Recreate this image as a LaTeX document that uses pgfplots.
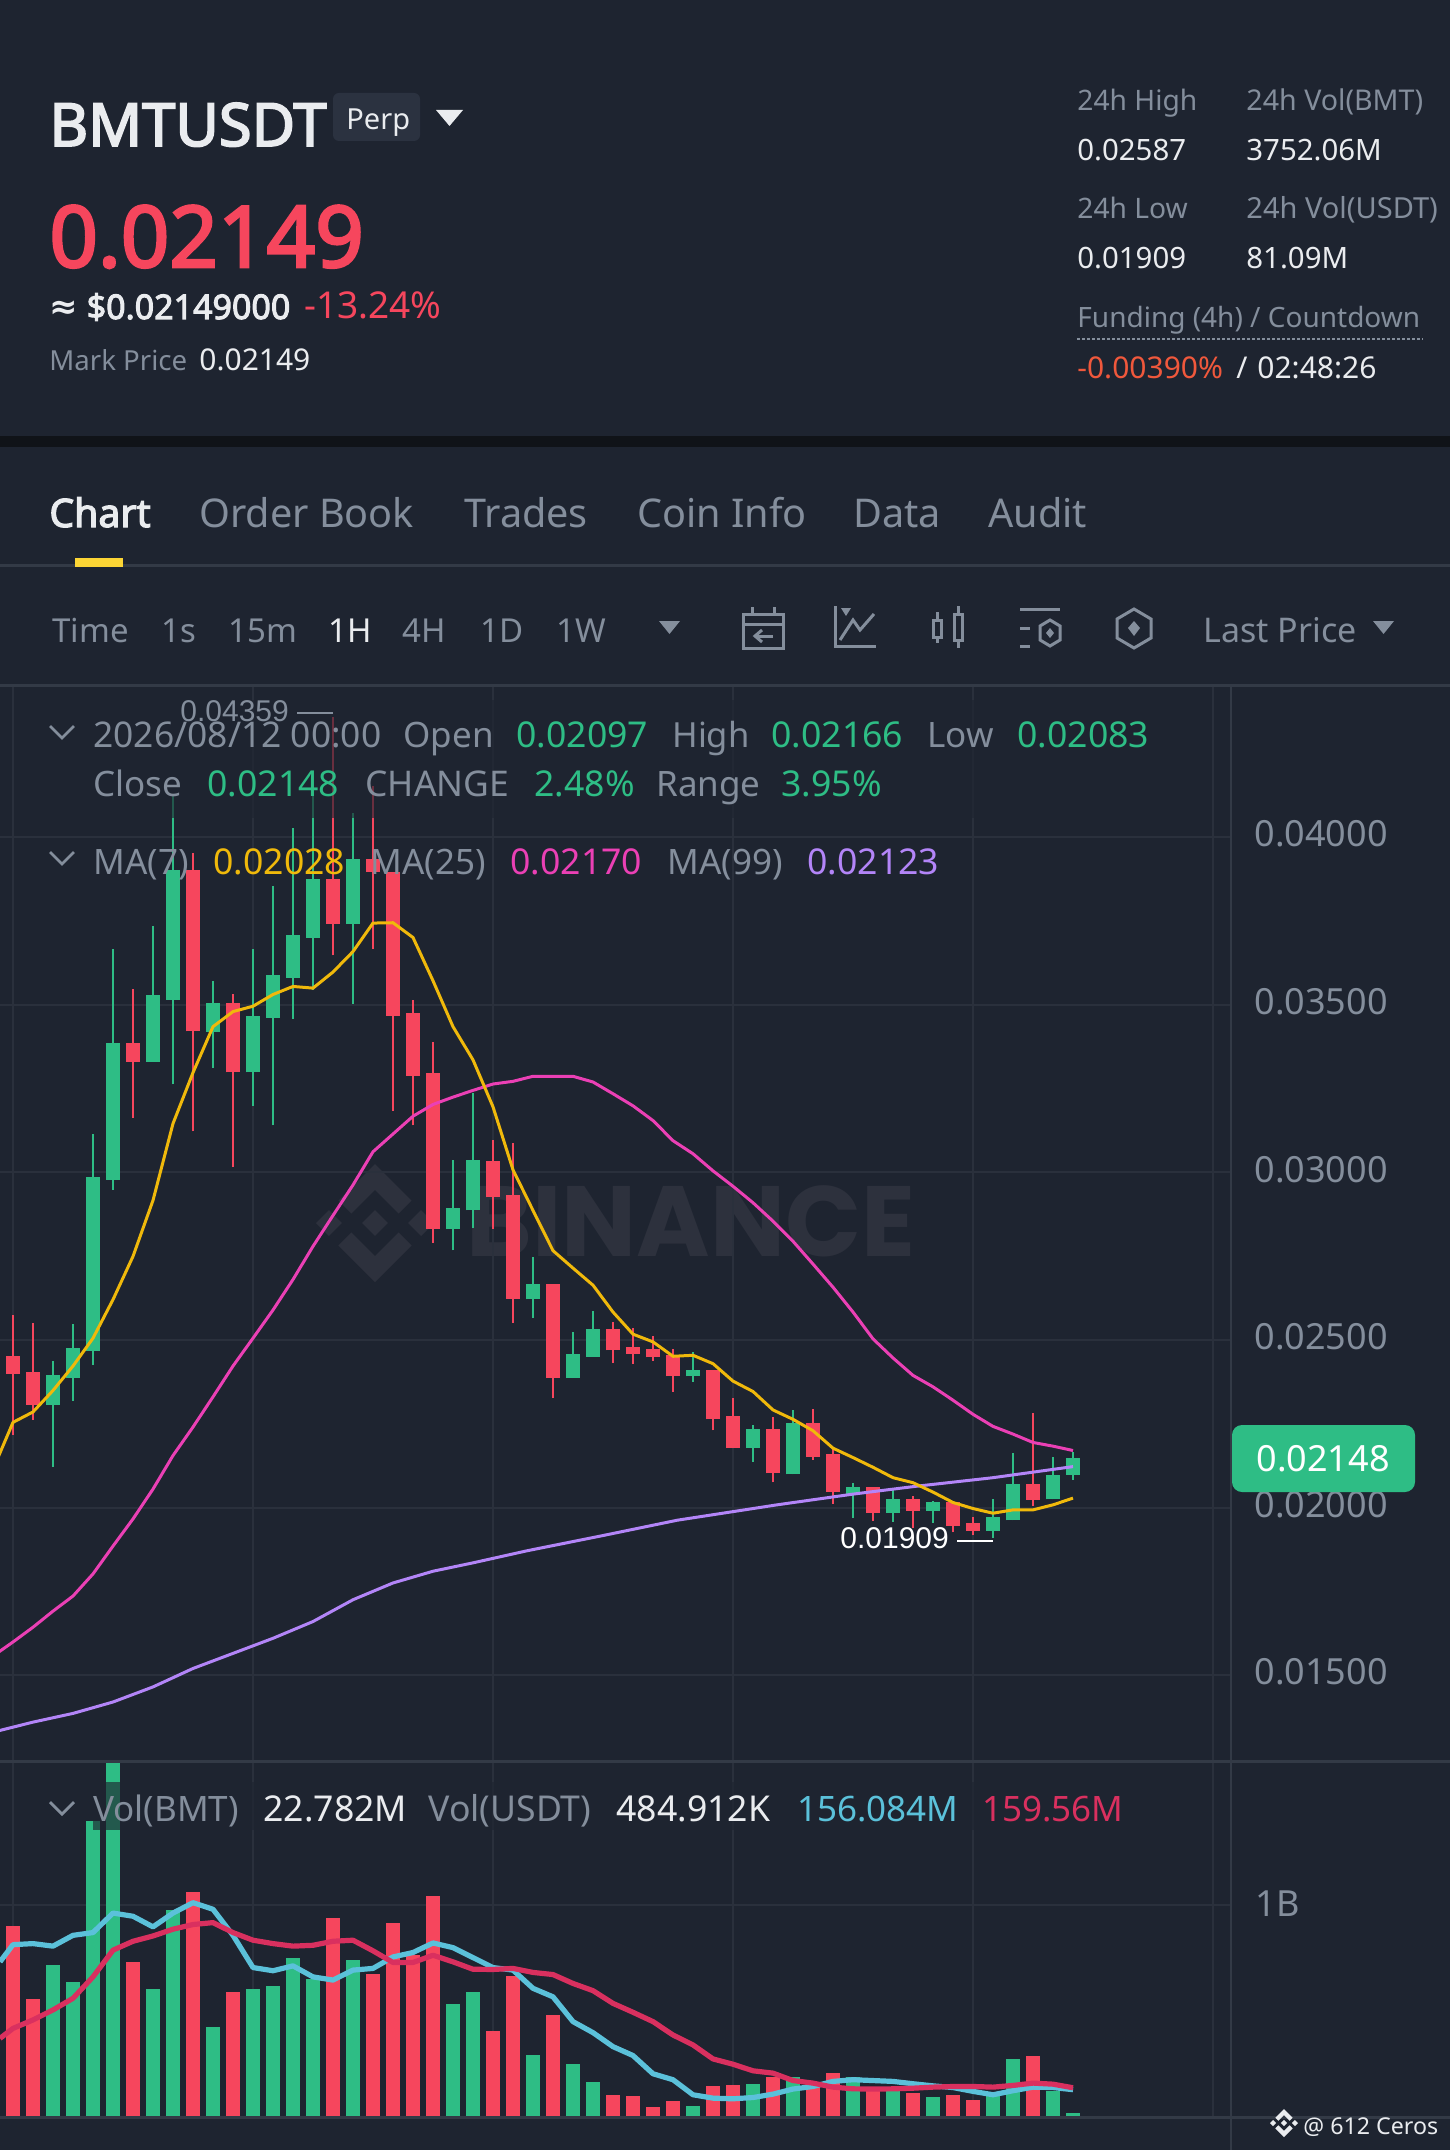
\documentclass[border=0pt]{standalone}
\usepackage{fontspec}
\usepackage{graphicx}
\usepackage{pgfplots}
\usepackage{pgfplotstable}
\pgfplotsset{compat=1.18}
\setmainfont{Noto Sans}[BoldFont={Noto Sans},BoldFeatures={FakeBold=3}]
\newfontfamily\poppins{Poppins}
\newfontfamily\arial{Liberation Sans}
\newfontfamily\djv{DejaVu Sans}
\definecolor{bg}{HTML}{1E2430}
\definecolor{band}{HTML}{101318}
\definecolor{sep}{HTML}{333A46}
\definecolor{gridc}{HTML}{2A303C}
\definecolor{wm}{HTML}{2D313D}
\definecolor{up}{HTML}{2EBD85}
\definecolor{dn}{HTML}{F6465D}
\definecolor{ma7}{HTML}{F0B90B}
\definecolor{ma25}{HTML}{EB40B5}
\definecolor{ma99}{HTML}{B385F8}
\definecolor{volb}{HTML}{5BC1DA}
\definecolor{volr}{HTML}{D9305F}
\definecolor{grey}{HTML}{848E9C}
\definecolor{wht}{HTML}{EAECEF}
\definecolor{tab}{HTML}{FCD535}
\definecolor{badge}{HTML}{2B3240}
\definecolor{fund}{HTML}{F0583C}
\newcommand{\fs}[1]{\fontsize{#1}{#1}\selectfont}
\newcommand{\T}[5]{\node[anchor=base west,inner sep=0pt,text=#4,font=\fs{#3}] at (#1,#2) {#5};}
\newcommand{\TB}[5]{\node[anchor=base west,inner sep=0pt,text=#4,font=\fs{#3}\bfseries] at (#1,#2) {#5};}
\newcommand{\BinLogo}[4]{\begin{scope}[shift={(#1,#2)},x=#3*0.5pt,y=-#3*0.5pt]
\fill[#4] (0,.22)--(.22,0)--(0,-.22)--(-.22,0)--cycle;
\fill[#4] (-.78,.22)--(-.56,0)--(-.78,-.22)--(-1,0)--cycle;
\fill[#4] (.78,.22)--(1,0)--(.78,-.22)--(.56,0)--cycle;
\fill[#4] (0,-1)--(.62,-.38)--(.40,-.16)--(0,-.56)--(-.40,-.16)--(-.62,-.38)--cycle;
\fill[#4] (0,1)--(.62,.38)--(.40,.16)--(0,.56)--(-.40,.16)--(-.62,.38)--cycle;
\end{scope}}
\pgfplotstableread{
i hi top bot lo
0 0.02574 0.02452 0.02399 0.02216
1 0.02551 0.02405 0.02307 0.02262
6 0.03546 0.03384 0.03330 0.03163
9 0.03951 0.03901 0.03420 0.03122
11 0.03530 0.03505 0.03298 0.03015
16 0.04359 0.03874 0.03741 0.03647
18 0.04152 0.03933 0.03895 0.03665
19 0.03895 0.03895 0.03466 0.03183
20 0.03514 0.03476 0.03288 0.03140
21 0.03388 0.03297 0.02830 0.02790
24 0.03097 0.03033 0.02925 0.02831
25 0.03086 0.02932 0.02622 0.02551
27 0.02667 0.02667 0.02386 0.02326
30 0.02554 0.02531 0.02469 0.02431
31 0.02534 0.02478 0.02459 0.02429
32 0.02511 0.02473 0.02448 0.02438
33 0.02472 0.02454 0.02391 0.02346
35 0.02410 0.02410 0.02263 0.02230
36 0.02328 0.02272 0.02177 0.02177
38 0.02269 0.02234 0.02102 0.02075
40 0.02294 0.02251 0.02150 0.02143
41 0.02177 0.02159 0.02046 0.02011
43 0.02061 0.02061 0.01983 0.01960
45 0.02033 0.02024 0.01991 0.01939
47 0.02017 0.02017 0.01945 0.01926
48 0.01971 0.01954 0.01931 0.01917
51 0.02281 0.02069 0.02023 0.02006
}\reddata
\pgfplotstableread{
i hi top bot lo
2 0.02437 0.02396 0.02307 0.02122
3 0.02546 0.02475 0.02385 0.02318
4 0.03114 0.02986 0.02467 0.02425
5 0.03665 0.03384 0.02977 0.02947
7 0.03735 0.03527 0.03330 0.03330
8 0.04122 0.03901 0.03514 0.03262
10 0.03571 0.03505 0.03419 0.03312
12 0.03667 0.03467 0.03298 0.03198
13 0.03855 0.03589 0.03460 0.03140
14 0.04027 0.03708 0.03580 0.03457
15 0.04142 0.03874 0.03699 0.03543
17 0.04070 0.03933 0.03740 0.03502
22 0.03035 0.02894 0.02830 0.02767
23 0.03236 0.03035 0.02886 0.02833
26 0.02746 0.02667 0.02621 0.02566
28 0.02522 0.02458 0.02386 0.02386
29 0.02585 0.02531 0.02450 0.02450
34 0.02464 0.02410 0.02391 0.02375
37 0.02246 0.02234 0.02177 0.02136
39 0.02291 0.02251 0.02099 0.02099
42 0.02072 0.02061 0.02040 0.01969
44 0.02051 0.02024 0.01983 0.01957
46 0.02019 0.02016 0.01991 0.01954
49 0.02025 0.01973 0.01930 0.01909
50 0.02162 0.02069 0.01962 0.01962
52 0.02151 0.02097 0.02024 0.02024
53 0.02166 0.02148 0.02097 0.02083
}\greendata
\pgfplotstableread{
i v
0 0.900
1 0.556
6 0.729
9 1.061
11 0.591
16 0.940
18 0.674
19 0.917
20 0.763
21 1.042
24 0.404
25 0.665
27 0.483
30 0.103
31 0.100
32 0.047
33 0.077
35 0.144
36 0.152
38 0.191
40 0.152
41 0.207
43 0.129
45 0.113
47 0.102
48 0.082
51 0.290
}\redvol
\pgfplotstableread{
i v
2 0.715
3 0.639
4 1.398
5 1.700
7 0.603
8 0.975
10 0.423
12 0.605
13 0.616
14 0.752
15 0.649
17 0.743
22 0.531
23 0.589
26 0.292
28 0.252
29 0.166
34 0.050
37 0.157
39 0.188
42 0.188
44 0.121
46 0.096
49 0.105
50 0.274
52 0.121
53 0.019
}\greenvol
\begin{document}
\begin{tikzpicture}[x=0.5pt,y=-0.5pt]
\path[use as bounding box,fill=bg] (0,0) rectangle (1450,2150);
% watermark
\BinLogo{375}{1223}{59}{wm}
\node[anchor=base west,inner sep=0pt,text=wm] at (466,1256) {\resizebox{224.5pt}{!}{\poppins\bfseries\fs{47}BINANCE}};
% price panel
\begin{axis}[at={(0pt,-880.5pt)},anchor=south west,scale only axis,width=615.5pt,height=537.5pt,
  xmin=-0.65,xmax=60.9,ymin=0.01244,ymax=0.0445,
  axis line style={draw=none},major tick length=0pt,
  xtick={0,12,24,36,48,60},xticklabels={},
  ytick={0.015,0.02,0.025,0.03,0.035,0.04},
  grid=major,grid style={gridc,line width=1pt},
  yticklabel pos=right,scaled y ticks=false,
  yticklabel style={/pgf/number format/fixed,/pgf/number format/fixed zerofill,/pgf/number format/precision=5,/pgf/number format/assume math mode=true,anchor=west,inner sep=0pt,xshift=11.5pt,yshift=1.5pt,text=grey,font=\fs{18}},
  axis on top=false]
\addplot[draw=none,mark=none,forget plot,error bars/.cd,y dir=plus,y explicit,error mark=none,error bar style={dn,line width=1.4pt,line cap=butt}] table[x=i,y=lo,y error expr=\thisrow{hi}-\thisrow{lo}] {\reddata};
\addplot[draw=none,mark=none,forget plot,error bars/.cd,y dir=plus,y explicit,error mark=none,error bar style={up,line width=1.4pt,line cap=butt}] table[x=i,y=lo,y error expr=\thisrow{hi}-\thisrow{lo}] {\greendata};
\addplot[draw=none,mark=none,forget plot,error bars/.cd,y dir=plus,y explicit,error mark=none,error bar style={dn,line width=7pt,line cap=butt}] table[x=i,y=bot,y error expr=\thisrow{top}-\thisrow{bot}] {\reddata};
\addplot[draw=none,mark=none,forget plot,error bars/.cd,y dir=plus,y explicit,error mark=none,error bar style={up,line width=7pt,line cap=butt}] table[x=i,y=bot,y error expr=\thisrow{top}-\thisrow{bot}] {\greendata};
% MA(99)
\addplot[ma99,line width=1.5pt,line join=round] coordinates {(-1,0.01330)(1,0.01360)(3,0.01386)(5,0.01420)(7,0.01465)(9,0.01520)(11,0.01565)(13,0.01610)(15,0.01660)(17,0.01725)(19,0.01775)(21,0.01810)(23,0.01835)(25.7,0.01871)(29.3,0.01914)(33.2,0.01962)(38.2,0.02008)(42,0.02040)(45.1,0.02063)(49,0.02089)(53,0.02122)};
% MA(25)
\addplot[ma25,line width=1.5pt,line join=round] coordinates {(-1,0.01557)(0,0.01599)(1,0.01643)(2,0.01691)(3,0.01736)(4,0.01802)(5,0.01885)(6,0.01966)(7,0.02055)(8,0.02155)(9,0.02240)(10,0.02330)(11,0.02422)(12,0.02505)(13,0.02589)(14,0.02680)(15,0.02779)(16,0.02871)(17,0.02962)(18,0.03061)(19,0.03114)(20,0.03167)(21,0.03202)(22,0.03224)(23,0.03244)(24,0.03263)(25,0.03271)(26,0.03286)(27,0.03286)(28,0.03286)(29,0.03269)(30,0.03234)(31,0.03198)(32,0.03154)(33,0.03094)(34,0.03055)(35,0.03004)(36,0.02958)(37,0.02909)(38,0.02854)(39,0.02794)(40,0.02726)(41,0.02657)(42,0.02583)(43,0.02503)(44,0.02446)(45,0.02394)(46,0.02360)(47,0.02320)(48,0.02278)(49,0.02242)(50,0.02219)(51,0.02194)(52,0.02183)(53,0.02170)};
% MA(7)
\addplot[ma7,line width=1.5pt,line join=round] coordinates {(-1,0.02114)(0,0.02254)(1,0.02285)(2,0.02349)(3,0.02422)(4,0.02505)(5,0.02620)(6,0.02749)(7,0.02916)(8,0.03145)(9,0.03297)(10,0.03434)(11,0.03479)(12,0.03495)(13,0.03530)(14,0.03554)(15,0.03549)(16,0.03597)(17,0.03658)(18,0.03743)(19,0.03744)(20,0.03700)(21,0.03571)(22,0.03434)(23,0.03335)(24,0.03195)(25,0.03007)(26,0.02886)(27,0.02766)(28,0.02714)(29,0.02663)(30,0.02583)(31,0.02517)(32,0.02494)(33,0.02451)(34,0.02454)(35,0.02429)(36,0.02377)(37,0.02346)(38,0.02291)(39,0.02263)(40,0.02229)(41,0.02177)(42,0.02149)(43,0.02120)(44,0.02089)(45,0.02074)(46,0.02046)(47,0.02015)(48,0.01997)(49,0.01983)(50,0.01993)(51,0.01993)(52,0.02008)(53,0.02028)};
\end{axis}
% volume panel
\begin{axis}[at={(0pt,-1058.5pt)},anchor=south west,scale only axis,width=615.5pt,height=177.5pt,
  xmin=-0.65,xmax=60.9,ymin=0,ymax=1.6745,
  axis line style={draw=none},major tick length=0pt,
  xtick={0,12,24,36,48,60},xticklabels={},
  ytick={1},yticklabels={1B},
  grid=major,grid style={gridc,line width=1pt},
  yticklabel pos=right,
  yticklabel style={anchor=west,inner sep=0pt,xshift=12pt,yshift=.8pt,text=grey,font=\fs{18}}]
\addplot[ycomb,dn,line width=7pt,line cap=butt,mark=none] table[x=i,y=v] {\redvol};
\addplot[ycomb,up,line width=7pt,line cap=butt,mark=none] table[x=i,y=v] {\greenvol};
\addplot[volb,line width=2.6pt,line join=round] coordinates {(-0.65,0.732)(0,0.813)(1,0.818)(2,0.806)(3,0.857)(4,0.870)(5,0.962)(6,0.947)(7,0.897)(8,0.962)(9,1.011)(10,0.980)(11,0.857)(12,0.705)(13,0.690)(14,0.713)(15,0.661)(16,0.646)(17,0.693)(18,0.701)(19,0.755)(20,0.776)(21,0.821)(22,0.799)(23,0.752)(24,0.705)(25,0.693)(26,0.607)(27,0.567)(28,0.450)(29,0.398)(30,0.332)(31,0.290)(32,0.204)(33,0.176)(34,0.105)(35,0.089)(36,0.086)(37,0.092)(38,0.108)(39,0.132)(40,0.144)(41,0.168)(42,0.176)(43,0.172)(44,0.168)(45,0.157)(46,0.147)(47,0.139)(48,0.121)(49,0.105)(50,0.124)(51,0.141)(52,0.139)(53,0.129)};
\addplot[volr,line width=2.6pt,line join=round] coordinates {(-0.65,0.371)(0,0.418)(1,0.458)(2,0.505)(3,0.560)(4,0.661)(5,0.787)(6,0.829)(7,0.854)(8,0.886)(9,0.908)(10,0.917)(11,0.870)(12,0.834)(13,0.818)(14,0.806)(15,0.810)(16,0.829)(17,0.834)(18,0.784)(19,0.729)(20,0.729)(21,0.763)(22,0.732)(23,0.697)(24,0.696)(25,0.701)(26,0.682)(27,0.672)(28,0.630)(29,0.596)(30,0.536)(31,0.494)(32,0.450)(33,0.387)(34,0.340)(35,0.274)(36,0.249)(37,0.218)(38,0.207)(39,0.172)(40,0.160)(41,0.141)(42,0.133)(43,0.132)(44,0.133)(45,0.136)(46,0.141)(47,0.144)(48,0.144)(49,0.141)(50,0.149)(51,0.160)(52,0.155)(53,0.138)};
\end{axis}
% legend veils
\fill[bg,opacity=.65] (93,700) rectangle (1180,818);
\fill[bg,opacity=.65] (93,1782) rectangle (1130,1830);
% frame lines
\fill[band] (0,436) rectangle (1450,447);
\fill[sep] (0,564) rectangle (1450,567);
\fill[sep] (0,684) rectangle (1450,687);
\fill[sep] (0,1760) rectangle (1450,1763);
\fill[sep] (0,2116) rectangle (1450,2119);
\fill[sep] (1230,687) rectangle (1232,2150);
\fill[tab] (75,558) rectangle (123,567);
% header
\TB{49}{146}{29.8}{wht}{BMTUSDT}
\fill[badge,rounded corners=3pt] (333,93) rectangle (420,141);
\T{346}{130}{14.5}{wht}{Perp}
\fill[wht] (436,110)--(463,110)--(449.5,126)--cycle;
\TB{49}{267}{42.5}{dn}{0.02149}
\TB{49}{319}{17}{wht}{{\djv ≈} \$0.02149000}
\T{304}{319}{18.5}{dn}{-13.24\%}
\T{49}{371}{13.8}{grey}{Mark Price}
\T{199}{371}{15}{wht}{0.02149}
\T{1077}{111}{14.1}{grey}{24h High}
\T{1246}{111}{14.3}{grey}{24h Vol(BMT)}
\T{1077}{161}{14.7}{wht}{0.02587}
\T{1246}{161}{14.7}{wht}{3752.06M}
\T{1077}{219}{14.1}{grey}{24h Low}
\T{1246}{219}{14.5}{grey}{24h Vol(USDT)}
\T{1077}{269}{14.7}{wht}{0.01909}
\T{1246}{269}{14.7}{wht}{81.09M}
\T{1077}{328}{14}{grey}{Funding (4h) / Countdown}
\draw[grey,line width=.8pt,dash pattern=on 1.5pt off 1pt] (1077,339)--(1423,339);
\T{1077}{379}{15}{fund}{-0.00390\%}
\T{1236}{379}{15}{wht}{/}
\T{1257}{379}{15}{wht}{02:48:26}
% tabs
\TB{49}{527}{19.6}{wht}{Chart}
\T{199}{527}{19.8}{grey}{Order Book}
\T{464}{527}{19.8}{grey}{Trades}
\T{637}{527}{19.8}{grey}{Coin Info}
\T{853}{527}{19.8}{grey}{Data}
\T{988}{527}{19.8}{grey}{Audit}
% toolbar
\T{52}{642}{16.5}{grey}{Time}
\T{161}{642}{16.5}{grey}{1s}
\T{228}{642}{16.5}{grey}{15m}
\T{328}{642}{16.5}{wht}{1H}
\T{402}{642}{16.5}{grey}{4H}
\T{480}{642}{16.5}{grey}{1D}
\T{556}{642}{16.5}{grey}{1W}
\fill[grey] (659,621)--(680,621)--(669.5,634)--cycle;
\begin{scope}[grey,line width=1.5pt]
\draw (743,614) rectangle (783,648); \draw (743,624)--(783,624); \draw (752,607)--(752,614); \draw (774,607)--(774,614);
\draw (773,636)--(755,636); \draw (762,630)--(755,636)--(762,642);
\draw (835,606)--(835,646)--(876,646); \draw (840,640)--(853,620)--(860,630)--(874,614);
\fill[grey] (841,608)--(851,608)--(846,616)--cycle;
\draw (933,620) rectangle (941,637); \draw (937,612)--(937,620); \draw (937,637)--(937,643);
\draw (954,614) rectangle (962,640); \draw (958,606)--(958,614); \draw (958,640)--(958,648);
\draw (1020,609)--(1060,609); \draw (1020,628)--(1030,628); \draw (1020,646)--(1030,646);
\draw (1050,620)--(1060,626)--(1060,640)--(1050,646)--(1040,640)--(1040,626)--cycle;
\fill[grey] (1050,628)--(1054,633)--(1050,638)--(1046,633)--cycle;
\draw (1134,609)--(1151,619)--(1151,638)--(1134,648)--(1117,638)--(1117,619)--cycle;
\fill[grey] (1134,621)--(1140,628)--(1134,636)--(1128,628)--cycle;
\end{scope}
\T{1203}{642}{17}{grey}{Last Price}
\fill[grey] (1373,621)--(1394,621)--(1383.5,634)--cycle;
% legend text
\draw[grey,line width=1.4pt] (50,726)--(62,738)--(74,726);
\T{93}{747}{17.7}{grey}{2026/08/12 00:00}
\T{403}{747}{17.5}{grey}{Open}
\T{516}{747}{17.8}{up}{0.02097}
\T{672}{747}{17.3}{grey}{High}
\T{771}{747}{17.8}{up}{0.02166}
\T{927}{747}{17.5}{grey}{Low}
\T{1017}{747}{17.8}{up}{0.02083}
\T{93}{796}{17.5}{grey}{Close}
\T{207}{796}{17.8}{up}{0.02148}
\T{365}{796}{17.7}{grey}{CHANGE}
\T{534}{796}{17.8}{up}{2.48\%}
\T{656}{796}{17.5}{grey}{Range}
\T{781}{796}{17.8}{up}{3.95\%}
\draw[grey,line width=1.4pt] (50,852)--(62,864)--(74,852);
\T{93}{874}{17.5}{grey}{MA(7)}
\T{213}{874}{17.8}{ma7}{0.02028}
\T{370}{874}{17.5}{grey}{MA(25)}
\T{510}{874}{17.8}{ma25}{0.02170}
\T{667}{874}{17.5}{grey}{MA(99)}
\T{807}{874}{17.8}{ma99}{0.02123}
% high/low labels
\node[anchor=base west,inner sep=0pt,text=grey,font=\fs{15}\arial] at (180,721) {0.04359};
\draw[grey,line width=1.2pt] (297,713)--(333,713);
\node[anchor=base west,inner sep=0pt,text=white,font=\fs{15}\arial] at (840,1548) {0.01909};
\draw[white,line width=1.2pt] (957,1541)--(993,1541);
% price tag
\fill[up,rounded corners=5pt] (1232,1425) rectangle (1415,1492);
\node[text=white,inner sep=0pt,font=\fs{18}] at (1323,1459) {0.02148};
% volume legend
\draw[grey,line width=1.4pt] (50,1802)--(62,1814)--(74,1802);
\T{93}{1821}{17.5}{grey}{Vol(BMT)}
\T{263}{1821}{17.8}{wht}{22.782M}
\T{428}{1821}{17.8}{grey}{Vol(USDT)}
\T{616}{1821}{17.8}{wht}{484.912K}
\T{797}{1821}{17.5}{volb}{156.084M}
\T{982}{1821}{17.5}{volr}{159.56M}
% credit
\BinLogo{1284}{2123}{14}{wht}
\T{1303}{2134}{11.6}{wht}{@ 612 Ceros}
\end{tikzpicture}
\end{document}
